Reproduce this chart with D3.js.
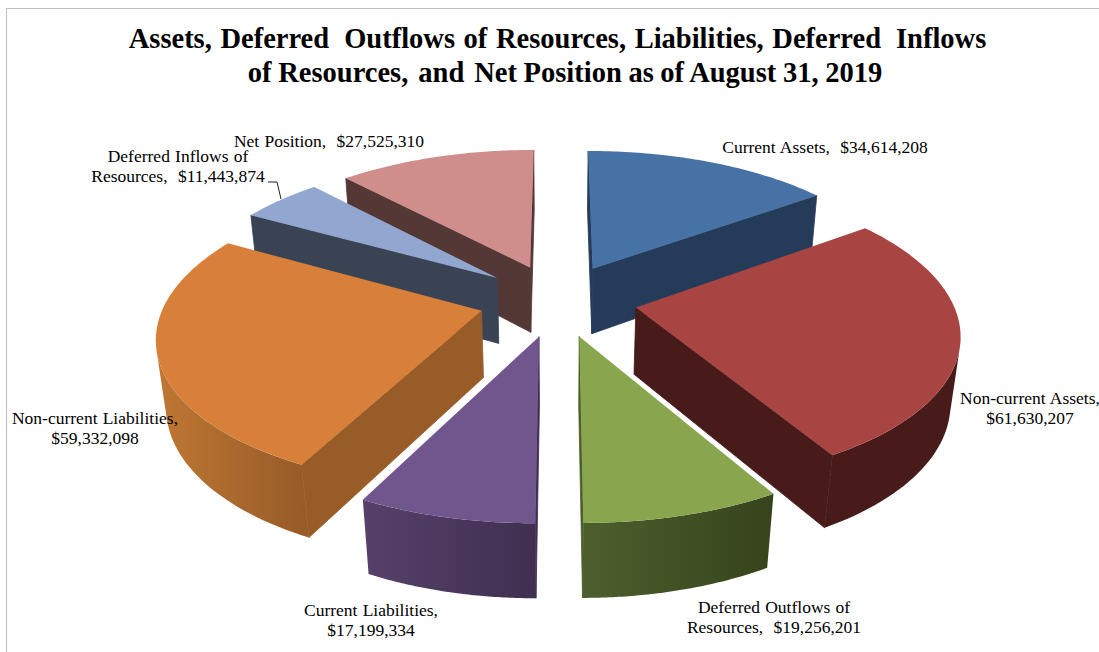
<!DOCTYPE html>
<html>
<head>
<meta charset="utf-8">
<script src="https://cdn.jsdelivr.net/npm/d3@7"></script>
<style>
    html, body { margin: 0; padding: 0; background: #fff; overflow: hidden; }
    text { font-family: "Liberation Serif", serif; fill: #000; white-space: pre; }
    .title { font-size: 28.5px; font-weight: bold; text-anchor: middle; }
    .label { font-size: 17.5px; text-anchor: middle; word-spacing: 0.8px; }
</style>
</head>
<body>
<div id="chart"></div>
<script>
// values, clockwise from 12 o'clock
var categories = ['Current Assets', 'Non-current Assets', 'Deferred Outflows of Resources', 'Current Liabilities', 'Non-current Liabilities', 'Deferred Inflows of Resources', 'Net Position'];
var values = [34614208, 61630207, 19256201, 17199334, 59332098, 11443874, 27525310];

var topColors = ['#4672a6', '#a84442', '#89a54e', '#71568e', '#d8803a', '#91a7cf', '#cf8d8c'];
var sideLight = ['#243b5a', '#461b19', '#4d5f2d', '#574169', '#bf7733', '#3a4354', '#533836'];
var sideDark = ['#243b5a', '#461b19', '#36431c', '#3f2f50', '#985c28', '#3a4354', '#533836'];

var labelLines = [
    ['Current Assets,  $34,614,208'],
    ['Non-current Assets,', '$61,630,207'],
    ['Deferred Outflows of', 'Resources,  $19,256,201'],
    ['Current Liabilities,', '$17,199,334'],
    ['Non-current Liabilities,', '$59,332,098'],
    ['Deferred Inflows of', 'Resources,  $11,443,874'],
    ['Net Position,  $27,525,310']
];
var labelX = [825, 1030, 774, 371, 95, 178, 329];
var labelY = [153, 404, 613, 616, 424, 162, 147];

// title runs, the gaps between runs are a bit wider than a word space
var titleLine1 = ['Assets, Deferred', 'Outflows of Resources, Liabilities, Deferred', 'Inflows'];
var titleLine2 = ['of Resources,', 'and', 'Net Position as of August 31, 2019'];

var width = 1099, height = 652;

// camera settings for the tilted pie
var view = { cx: 558, cy: 300, kx: 316, ky: 145, depth: 68, persp: 0.155, shrink: 0.025, explode: 0.25 };

function project(u, v, h) {
    var s = 1 / (1 - view.persp * v + view.shrink * h);
    return [view.cx + view.kx * u * s, view.cy + (view.ky * v + view.depth * h) * s];
}

var svg = d3.select('#chart').append('svg')
    .attr('width', width)
    .attr('height', height);
var defs = svg.append('defs');

svg.append('path')
    .attr('d', d3.line()([[6.5, height], [6.5, 8.5], [width, 8.5]]))
    .attr('fill', 'none')
    .attr('stroke', '#bdbdbd')
    .attr('stroke-width', 1);

function addTitleLine(runs, x, y, gap, wordSpacing) {
    var t = svg.append('text')
        .attr('class', 'title')
        .attr('x', x)
        .attr('y', y)
        .style('word-spacing', wordSpacing + 'px');
    runs.forEach(function(s, i) {
        t.append('tspan').attr('dx', i ? gap : 0).text(s);
    });
}
addTitleLine(titleLine1, 557.5, 48, 15, 1.5);
addTitleLine(titleLine2, 565, 82, 10, -0.5);

var pie = d3.pie().sort(null).startAngle(0).endAngle(2 * Math.PI);
var arcs = pie(values).map(function(d, i) {
    d.i = i;
    d.mid = (d.startAngle + d.endAngle) / 2;
    return d;
});

// far slices first
arcs.sort(function(a, b) { return Math.cos(b.mid) - Math.cos(a.mid); });

var line = d3.line();

// only faces turned to the viewer (d3 area is negative for clockwise on screen)
function isFacing(pts) {
    return d3.polygonArea(pts) < 0;
}

function drawFace(g, pts, color) {
    if (!isFacing(pts)) return;
    g.append('path')
        .attr('d', line(pts) + 'Z')
        .attr('fill', color)
        .attr('stroke', color)
        .attr('stroke-width', 0.8);
}

arcs.forEach(function(d) {
    var g = svg.append('g').attr('class', 'slice');
    var ou = view.explode * Math.sin(d.mid);
    var ov = -view.explode * Math.cos(d.mid);

    function rim(t, h) {
        return project(ou + Math.sin(t), ov - Math.cos(t), h);
    }
    var apexTop = project(ou, ov, 0);
    var apexBot = project(ou, ov, 1);

    var steps = d3.range(0, 61).map(function(k) {
        return d.startAngle + (d.endAngle - d.startAngle) * k / 60;
    });

    // radial walls
    drawFace(g, [rim(d.startAngle, 0), apexTop, apexBot, rim(d.startAngle, 1)], sideDark[d.i]);
    drawFace(g, [apexTop, rim(d.endAngle, 0), rim(d.endAngle, 1), apexBot], sideLight[d.i]);

    // outer wall, only the part that shows, one path with a left-right gradient
    var shown = steps.filter(function(t, k) {
        if (k === 0) return false;
        var t0 = steps[k - 1];
        return isFacing([rim(t0, 0), rim(t0, 1), rim(t, 1), rim(t, 0)]);
    });
    if (shown.length) {
        shown.unshift(shown[0] - (steps[1] - steps[0]));
        var upper = shown.map(function(t) { return rim(t, 0); });
        var lower = shown.map(function(t) { return rim(t, 1); }).reverse();
        var gradId = 'wall' + d.i;
        var grad = defs.append('linearGradient')
            .attr('id', gradId)
            .attr('gradientUnits', 'userSpaceOnUse')
            .attr('x1', upper[0][0])
            .attr('x2', upper[upper.length - 1][0])
            .attr('y1', 0)
            .attr('y2', 0);
        grad.append('stop').attr('offset', 0).attr('stop-color', sideDark[d.i]);
        grad.append('stop').attr('offset', 1).attr('stop-color', sideLight[d.i]);
        g.append('path')
            .attr('d', line(upper.concat(lower)) + 'Z')
            .attr('fill', 'url(#' + gradId + ')');
    }

    // top
    var topPts = [apexTop].concat(steps.map(function(t) { return rim(t, 0); }));
    g.append('path')
        .attr('d', line(topPts) + 'Z')
        .attr('fill', topColors[d.i]);
});

// leader for the Deferred Inflows label
svg.append('path')
    .attr('d', line([[268, 182], [277, 182], [281, 199]]))
    .attr('fill', 'none')
    .attr('stroke', '#222')
    .attr('stroke-width', 1);

categories.forEach(function(name, i) {
    var t = svg.append('text').attr('class', 'label');
    labelLines[i].forEach(function(s, k) {
        t.append('tspan')
            .attr('x', labelX[i])
            .attr('y', labelY[i] + k * 20)
            .text(s);
    });
});
</script>
</body>
</html>
